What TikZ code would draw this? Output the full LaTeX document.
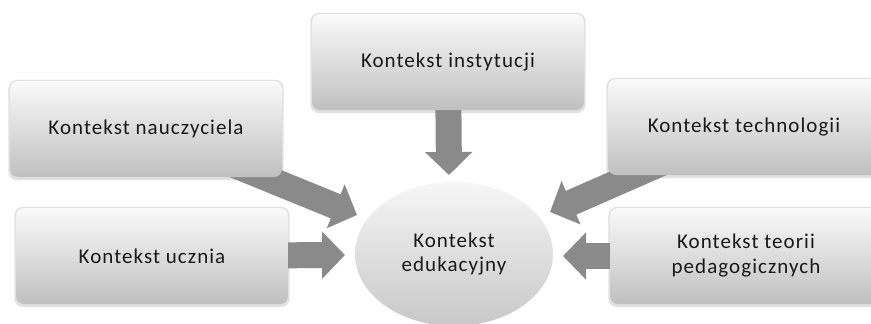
\documentclass[tikz,border=0pt]{standalone}
\usepackage{fontspec}
\setmainfont{Carlito}[LetterSpace=5]
\usetikzlibrary{arrows.meta,shapes.geometric}
\definecolor{boxtop}{RGB}{250,250,250}
\definecolor{boxbot}{RGB}{192,192,192}
\definecolor{elltop}{RGB}{246,246,246}
\definecolor{ellbot}{RGB}{200,200,200}
\definecolor{arrowgray}{RGB}{138,138,138}
\definecolor{shadowgray}{RGB}{225,225,225}
\definecolor{txt}{RGB}{25,25,25}
\pgfdeclarelayer{bg}
\pgfsetlayers{bg,main}
\begin{document}
\begin{tikzpicture}[x=1pt,y=-1pt,
  ctx/.style={rectangle, rounded corners=8pt, minimum width=272pt, minimum height=96pt,
    top color=boxtop, bottom color=boxbot, draw=none, align=center,
    font=\fontsize{21}{25}\selectfont, text=txt},
  bigarrow/.style={draw=arrowgray, line width=26pt, -{Triangle[width=46pt,length=23pt]}}
]
\useasboundingbox (0,0) rectangle (871,324);
\begin{pgfonlayer}{bg}
\fill[white] (0,0) rectangle (871,324);
\end{pgfonlayer}
% context boxes
\node[ctx] (inst) at (448,62) {Kontekst instytucji};
\node[ctx] (nau) at (146,129) {Kontekst nauczyciela};
\node[ctx] (ucz) at (152,256) {Kontekst ucznia};
\node[ctx] (tech) at (744,127) {Kontekst technologii};
\node[ctx] (teor) at (746,256) {Kontekst teorii\\pedagogicznych};
% central ellipse
\node[ellipse, minimum width=198pt, minimum height=144pt, top color=elltop, bottom color=ellbot,
  draw=none, align=center, font=\fontsize{21}{24}\selectfont, text=txt] (edu) at (454,254)
  {Kontekst\\edukacyjny};
% arrow tips
\coordinate (tinst) at (449,175);
\coordinate (tnau) at (357,215);
\coordinate (tucz) at (345,255);
\coordinate (ttech) at (550,212);
\coordinate (tteor) at (563,256);
\begin{pgfonlayer}{bg}
\foreach \b in {inst,nau,ucz,tech,teor}
  \fill[shadowgray, rounded corners=9pt]
    ([xshift=-1.5pt,yshift=-3pt]\b.south west) rectangle ([xshift=1.5pt,yshift=1pt]\b.north east);
\draw[bigarrow] (inst.center) -- (tinst);
\draw[bigarrow] (nau.center) -- (tnau);
\draw[bigarrow] (ucz.center) -- (tucz);
\draw[bigarrow] (tech.center) -- (ttech);
\draw[bigarrow] (teor.center) -- (tteor);
\end{pgfonlayer}
\end{tikzpicture}
\end{document}
